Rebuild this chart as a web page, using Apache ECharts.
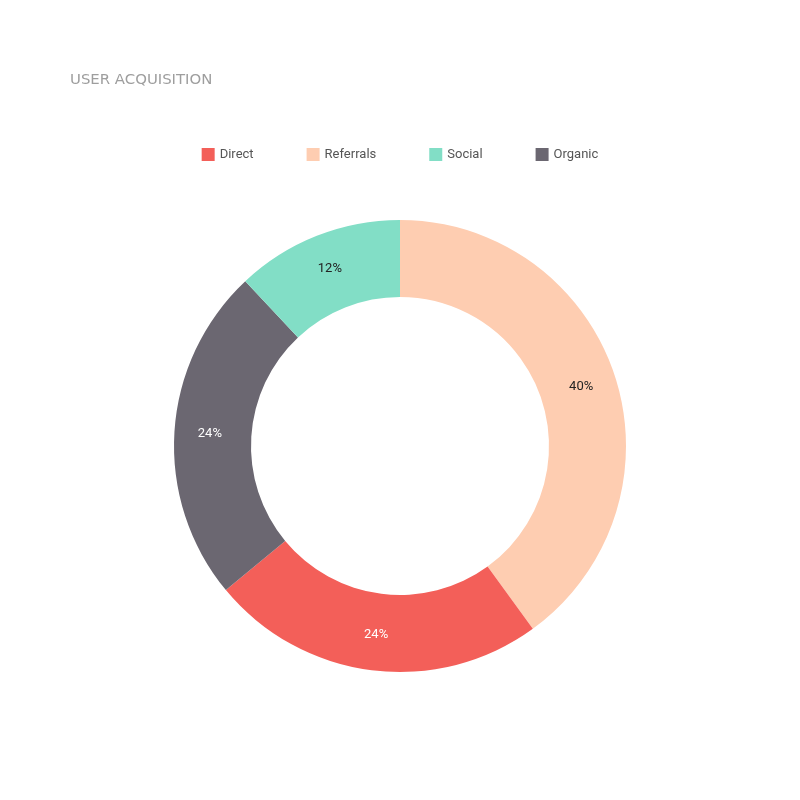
<!DOCTYPE html>
<html><head><meta charset="utf-8">
<script src="https://cdn.jsdelivr.net/npm/echarts@6/dist/echarts.min.js"></script>
<style>html,body{margin:0;padding:0;background:#fff}#c{width:800px;height:800px}</style>
</head><body><div id="c"></div>
<script>
const titleText = 'USER ACQUISITION';
const legendOrder = ['Direct', 'Referrals', 'Social', 'Organic'];
const sliceNames = ['Referrals', 'Direct', 'Organic', 'Social'];
const sliceValues = [40, 24, 24, 12];
const sliceColors = ['#FECDB1', '#F35F59', '#6B6771', '#82DEC6'];
const labelColors = ['#222222', '#ffffff', '#ffffff', '#222222'];

const chart = echarts.init(document.getElementById('c'), null, {renderer: 'canvas'});
chart.setOption({
  animation: false,
  title: {
    text: titleText, left: 70, top: 73, padding: 0,
    textStyle: {fontFamily: 'DejaVu Sans', fontSize: 14.9, fontWeight: 'normal', color: '#9e9e9e'}
  },
  legend: {
    data: legendOrder, top: 143, left: 'center', itemGap: 53,
    itemWidth: 13, itemHeight: 13, icon: 'rect',
    textStyle: {fontFamily: 'Roboto', fontSize: 13, color: '#555555'}
  },
  series: [{
    type: 'pie', center: [400, 446], radius: [149, 226],
    startAngle: 90, clockwise: true,
    label: {position: 'inside', formatter: '{d}%', fontFamily: 'Roboto', fontSize: 13},
    labelLine: {show: false},
    emphasis: {disabled: true},
    data: sliceNames.map((n, i) => ({
      name: n, value: sliceValues[i],
      itemStyle: {color: sliceColors[i]},
      label: {color: labelColors[i]}
    }))
  }]
});
</script></body></html>
